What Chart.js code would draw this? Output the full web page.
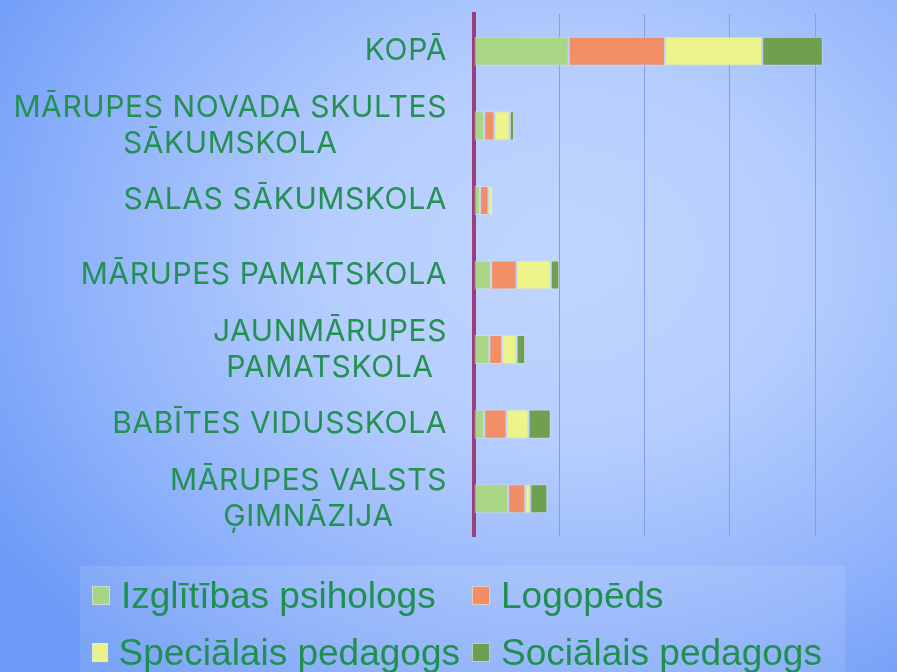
<!doctype html>
<html lang="lv">
<head>
<meta charset="utf-8" />
<title>Speciālisti skolās</title>
<script src="https://cdn.jsdelivr.net/npm/chart.js@4.4.4/dist/chart.umd.min.js"></script>
<style>
  html, body { margin: 0; padding: 0; overflow: hidden; }
  body { width: 897px; height: 672px; background: radial-gradient(ellipse 75% 80% at 63% 38%, #c0d6ff 0%, #b6cefe 35%, #92b4fb 70%, #6e9bf7 100%); }
  .wrap { position: relative; width: 897px; height: 672px; }
  .legend { position: absolute; left: 80px; top: 566px; width: 765px; height: 110px; background: rgba(255,255,255,0.1);
    display: grid; grid-template-columns: 380px 385px; grid-auto-rows: 57px; padding-top: 1px; box-sizing: border-box;
    font: 37px "Liberation Sans", Arial, sans-serif; color: #1f9050; }
  .legend .item { display: flex; align-items: center; white-space: nowrap; padding-left: 12px; }
  .legend .box { width: 18px; height: 19px; margin-right: 11px; box-sizing: border-box; border: 1px solid rgba(220,228,240,0.7); }
</style>
</head>
<body>
<div class="wrap">
  <canvas id="chart"></canvas>
  <div class="legend" id="legend"></div>
</div>
<script>
const categories = [
  ["KOPĀ"],
  ["MĀRUPES NOVADA SKULTES", "SĀKUMSKOLA"],
  ["SALAS SĀKUMSKOLA"],
  ["MĀRUPES PAMATSKOLA"],
  ["JAUNMĀRUPES", "PAMATSKOLA"],
  ["BABĪTES VIDUSSKOLA"],
  ["MĀRUPES VALSTS", "ĢIMNĀZIJA"],
];
const psihologs = [5.55, 0.6, 0.35, 1.0, 0.9, 0.6, 2.0];
const logopeds = [5.65, 0.6, 0.5, 1.5, 0.75, 1.3, 1.0];
const specPedagogs = [5.7, 0.9, 0.25, 2.0, 0.85, 1.3, 0.3];
const socPedagogs = [3.55, 0.25, 0, 0.5, 0.5, 1.3, 1.0];

const seriesNames = ["Izglītības psihologs", "Logopēds", "Speciālais pedagogs", "Sociālais pedagogs"];
const seriesColors = ["rgba(169,215,126,0.95)", "rgba(245,139,94,0.95)", "rgba(238,245,132,0.95)", "rgba(108,157,70,0.95)"];
const seriesData = [psihologs, logopeds, specPedagogs, socPedagogs];

const LABEL_COLOR = "#249152";

// category labels: block right-aligned to the axis, lines centred within the block
const catLabels = {
  id: "catLabels",
  afterDraw(chart) {
    const { ctx, chartArea, scales } = chart;
    const right = chartArea.left - 27;
    ctx.save();
    ctx.font = '400 30px Inter, "Noto Sans", sans-serif';
    ctx.letterSpacing = "0.6px";
    ctx.fillStyle = LABEL_COLOR;
    ctx.textAlign = "center";
    ctx.textBaseline = "middle";
    categories.forEach((lines, i) => {
      const yc = scales.y.getPixelForValue(i);
      const maxW = Math.max(...lines.map((l) => ctx.measureText(l).width));
      const cx = right - maxW / 2;
      const lh = 36;
      lines.forEach((l, j) => {
        ctx.fillText(l, cx, yc + (j - (lines.length - 1) / 2) * lh);
      });
    });
    ctx.restore();
  },
};

function draw() {
  new Chart(document.getElementById("chart"), {
    type: "bar",
    data: {
      labels: categories.map((c) => c.join(" ")),
      datasets: seriesNames.map((name, i) => ({
        label: name,
        data: seriesData[i],
        backgroundColor: seriesColors[i],
        borderColor: "rgba(215,224,238,0.6)",
        borderWidth: 1,
        borderSkipped: false,
        categoryPercentage: 0.39,
        barPercentage: 1,
      })),
    },
    options: {
      indexAxis: "y",
      animation: false,
      responsive: true,
      maintainAspectRatio: false,
      layout: { padding: { top: 14, bottom: 136, right: 0, left: 0 } },
      plugins: { legend: { display: false }, tooltip: { enabled: false } },
      scales: {
        x: {
          stacked: true,
          min: 0,
          max: 24.8,
          ticks: { display: false, stepSize: 5 },
          afterBuildTicks: (scale) => { scale.ticks = scale.ticks.filter((t) => t.value % 5 === 0); },
          grid: { color: (c) => (c.tick && c.tick.value === 0 ? "rgba(0,0,0,0)" : "#7f9ef0"), lineWidth: 1, drawTicks: false },
          border: { display: false },
        },
        y: {
          stacked: true,
          ticks: { display: false },
          grid: { display: false, drawTicks: false },
          border: { display: true, color: "#9b3f7c", width: 4 },
          afterFit: (scale) => { scale.width = 474; },
        },
      },
    },
    plugins: [catLabels],
  });

  document.getElementById("legend").innerHTML = seriesNames
    .map((n, i) => `<div class="item"><span class="box" style="background:${seriesColors[i]}"></span>${n}</div>`)
    .join("");
}

document.fonts.load('30px Inter').then(draw, draw);
</script>
</body>
</html>
